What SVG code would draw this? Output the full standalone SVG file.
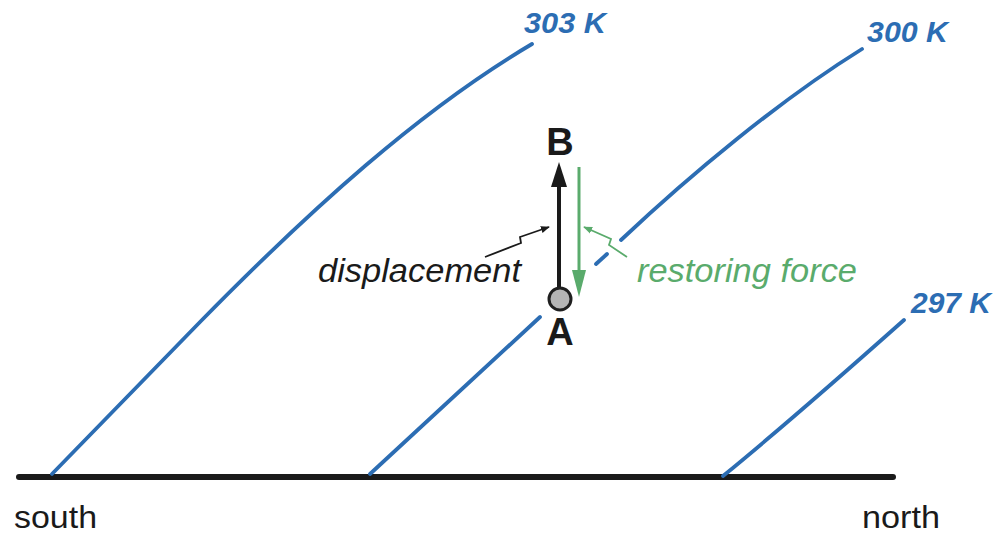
<svg xmlns="http://www.w3.org/2000/svg" width="1000" height="536" viewBox="0 0 1000 536">
<defs>
<style>
.iso{fill:none;stroke:#2c6db3;stroke-width:3.8;stroke-linecap:round}
.lbl{font-family:"Liberation Sans",Arial,sans-serif;font-weight:bold;font-style:italic;font-size:30px;fill:#2c6db3}
.ax{font-family:"Liberation Sans",Arial,sans-serif;font-size:32px;fill:#1a1a1a}
.pt{font-family:"Liberation Sans",Arial,sans-serif;font-weight:bold;font-size:38px;fill:#1a1a1a;text-anchor:middle}
.it{font-family:"Liberation Sans",Arial,sans-serif;font-style:italic;font-size:33px}
</style>
<marker id="ptrK" viewBox="0 0 10 10" refX="9" refY="5" markerWidth="9" markerHeight="9" markerUnits="userSpaceOnUse" orient="auto"><path d="M0,1 L10,5 L0,9 Z" fill="#1a1a1a"/></marker>
<marker id="ptrG" viewBox="0 0 10 10" refX="9" refY="5" markerWidth="9" markerHeight="9" markerUnits="userSpaceOnUse" orient="auto"><path d="M0,1 L10,5 L0,9 Z" fill="#5aab6c"/></marker>
</defs>
<rect width="1000" height="536" fill="#ffffff"/>
<g id="ground">
<line x1="19" y1="477" x2="893" y2="477" stroke="#1a1a1a" stroke-width="6" stroke-linecap="round"/>
<text class="ax" x="14" y="528" textLength="83" lengthAdjust="spacingAndGlyphs">south</text>
<text class="ax" x="862" y="528" textLength="78" lengthAdjust="spacingAndGlyphs">north</text>
</g>
<g id="isentrope-303">
<path class="iso" d="M52,474 L200,322 C310,210 420,110 532,44"/>
<text class="lbl" x="524" y="33" textLength="82" lengthAdjust="spacingAndGlyphs">303 K</text>
</g>
<g id="isentrope-300">
<path class="iso" d="M370,474 L540,317"/>
<path class="iso" d="M596,264 L607,254"/>
<path class="iso" d="M621,240 C690,175 780,100 862,49"/>
<text class="lbl" x="867" y="42" textLength="81" lengthAdjust="spacingAndGlyphs">300 K</text>
</g>
<g id="isentrope-297">
<path class="iso" d="M723,476 C772,436 850,368 904,320"/>
<text class="lbl" x="911" y="313" textLength="80" lengthAdjust="spacingAndGlyphs">297 K</text>
</g>
<g id="connectors">
<line x1="559" y1="288" x2="559" y2="184" stroke="#1a1a1a" stroke-width="4"/>
<path d="M559,162 L551,187 L567,187 Z" fill="#1a1a1a"/>
<line x1="579" y1="167" x2="579" y2="272" stroke="#5aab6c" stroke-width="3"/>
<path d="M579,297 L572,270 L586,270 Z" fill="#5aab6c"/>
<path d="M485,257 L521,243 L520,237 L549,227" fill="none" stroke="#1a1a1a" stroke-width="1.8" marker-end="url(#ptrK)"/>
<path d="M627,257 L609,245 L611,239 L584,227" fill="none" stroke="#5aab6c" stroke-width="1.8" marker-end="url(#ptrG)"/>
</g>
<g id="point-A">
<circle cx="560" cy="299" r="11" fill="#b5b5b5" stroke="#1f1f1f" stroke-width="3"/>
<text class="pt" x="560" y="345">A</text>
</g>
<g id="point-B">
<text class="pt" x="560" y="155">B</text>
</g>
<g id="label-displacement">
<text class="it" x="318" y="282" fill="#1a1a1a" textLength="203" lengthAdjust="spacingAndGlyphs">displacement</text>
</g>
<g id="label-restoring">
<text class="it" x="637" y="282" fill="#5aab6c" textLength="220" lengthAdjust="spacingAndGlyphs">restoring force</text>
</g>
</svg>
